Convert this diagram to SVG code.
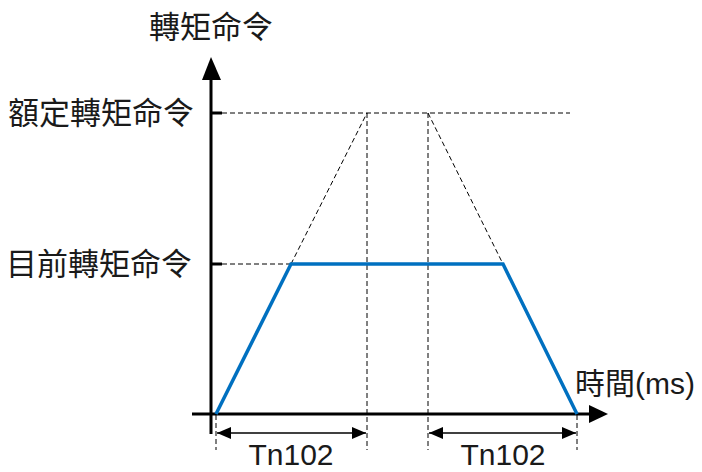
<svg xmlns="http://www.w3.org/2000/svg" width="702" height="472" viewBox="0 0 702 472">
<defs>
<style>
.t{font-family:"Liberation Sans","Noto Sans CJK TC",sans-serif;font-size:31px;fill:#1a1a1a}
.ax{stroke:#000;stroke-width:3;fill:none}
.d{stroke:#000;stroke-width:1;stroke-dasharray:5,3;fill:none}
.b{stroke:#0070C0;stroke-width:3.5;fill:none;stroke-linejoin:miter}
.dim{stroke:#404040;stroke-width:2;fill:none}
</style>
<marker id="dh" viewBox="0 0 14 12" refX="14" refY="6" markerWidth="14" markerHeight="12" orient="auto-start-reverse" markerUnits="userSpaceOnUse">
<path d="M0,0 L14,6 L0,12 Z" fill="#000"/>
</marker>
</defs>
<g id="guides">
<line class="d" x1="222" y1="113" x2="570" y2="113"/>
<line class="d" x1="222" y1="264" x2="291" y2="264"/>
<line class="d" x1="291" y1="264" x2="367" y2="113"/>
<line class="d" x1="428" y1="113" x2="503" y2="264"/>
<line class="d" x1="367" y1="113" x2="367" y2="450"/>
<line class="d" x1="428" y1="113" x2="428" y2="450"/>
<line class="d" x1="216" y1="415" x2="216" y2="450"/>
<line class="d" x1="577" y1="415" x2="577" y2="450"/>
</g>
<g id="axes">
<line class="ax" x1="211" y1="434" x2="211" y2="80"/>
<path d="M211,57 L202,80 L221,80 Z" fill="#000"/>
<line class="ax" x1="192" y1="414" x2="590" y2="414"/>
<path d="M608,414 L589,405 L589,423 Z" fill="#000"/>
<line class="ax" x1="211" y1="113" x2="222" y2="113"/>
<line class="ax" x1="211" y1="264" x2="222" y2="264"/>
</g>
<g id="curve">
<polyline class="b" points="216,414 291,264 503,264 577,414"/>
</g>
<g id="dimensions">
<line class="dim" x1="217" y1="433" x2="366" y2="433" marker-start="url(#dh)" marker-end="url(#dh)"/>
<line class="dim" x1="429" y1="433" x2="576" y2="433" marker-start="url(#dh)" marker-end="url(#dh)"/>
</g>
<g id="labels">
<text class="t" x="211" y="38" text-anchor="middle">轉矩命令</text>
<text class="t" x="8" y="124">額定轉矩命令</text>
<text class="t" x="6" y="275">目前轉矩命令</text>
<text class="t" x="575" y="394" style="font-size:30px">時間(ms)</text>
<text class="t" x="291" y="465" text-anchor="middle" style="font-size:30px">Tn102</text>
<text class="t" x="503" y="465" text-anchor="middle" style="font-size:30px">Tn102</text>
</g>
</svg>
